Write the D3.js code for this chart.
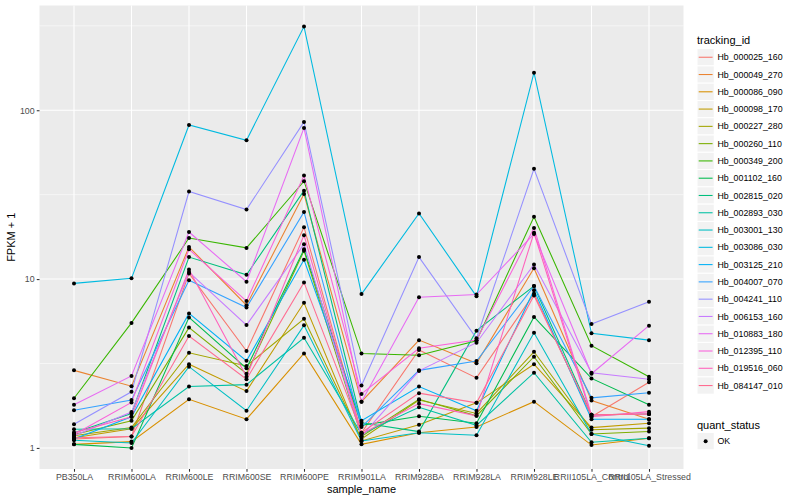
<!DOCTYPE html>
<html>
<head>
<meta charset="utf-8">
<script src="https://cdn.jsdelivr.net/npm/d3@7"></script>
<style>
  html, body { margin: 0; padding: 0; background: #fff; }
  text { font-family: "Liberation Sans", Arial, Helvetica, sans-serif; }
</style>
</head>
<body>
<svg id="chart" width="800" height="500"></svg>
<script>
// ---------- data ----------
const samples = ["PB350LA","RRIM600LA","RRIM600LE","RRIM600SE","RRIM600PE","RRIM901LA",
  "RRIM928BA","RRIM928LA","RRIM928LE","RRII105LA_Control","RRII105LA_Stressed"];

const trackingIds = ["Hb_000025_160","Hb_000049_270","Hb_000086_090","Hb_000098_170",
  "Hb_000227_280","Hb_000260_110","Hb_000349_200","Hb_001102_160","Hb_002815_020",
  "Hb_002893_030","Hb_003001_130","Hb_003086_030","Hb_003125_210","Hb_004007_070",
  "Hb_004241_110","Hb_006153_160","Hb_010883_180","Hb_012395_110","Hb_019516_060",
  "Hb_084147_010"];

// FPKM + 1 per sample, one array per gene
const hb_000025_160 = [1.13, 1.17, 10.8, 3.75, 20.3, 1.23, 3.80, 2.60, 8.2, 1.53, 2.45];
const hb_000049_270 = [2.88, 2.32, 15.5, 7.0, 31.9, 1.88, 4.35, 3.17, 11.6, 1.91, 1.48];
const hb_000086_090 = [1.05, 1.09, 1.94, 1.48, 3.63, 1.05, 1.23, 1.33, 1.88, 1.04, 1.14];
const hb_000098_170 = [1.15, 1.30, 3.13, 2.17, 7.24, 1.10, 1.37, 1.85, 3.13, 1.32, 1.40];
const hb_000227_280 = [1.18, 1.32, 3.66, 3.06, 5.82, 1.13, 1.92, 1.60, 3.71, 1.28, 1.31];
const hb_000260_110 = [1.20, 1.45, 5.16, 2.75, 14.7, 1.17, 1.94, 1.55, 3.47, 1.21, 1.25];
const hb_000349_200 = [1.97, 5.5, 17.5, 15.3, 38.0, 3.62, 3.54, 4.31, 23.4, 4.03, 2.64];
const hb_001102_160 = [1.05, 1.00, 5.93, 2.96, 15.0, 1.36, 1.54, 1.40, 5.97, 2.58, 1.80];
const hb_002815_020 = [1.23, 1.60, 13.5, 10.6, 33.4, 1.41, 1.25, 4.95, 9.1, 1.57, 1.59];
const hb_002893_030 = [1.29, 1.30, 2.31, 2.37, 4.49, 1.21, 1.74, 1.36, 2.79, 1.08, 1.14];
const hb_003001_130 = [1.11, 1.07, 3.03, 1.66, 5.32, 1.10, 1.23, 1.19, 4.81, 1.21, 1.03];
const hb_003086_030 = [9.43, 10.1, 81.8, 66.4, 313, 8.15, 24.5, 7.9, 167, 4.77, 4.35];
const hb_003125_210 = [1.13, 1.53, 6.26, 3.28, 13.0, 1.45, 2.31, 1.66, 8.6, 1.48, 1.48];
const hb_004007_070 = [1.67, 1.92, 9.85, 6.78, 25.0, 1.33, 2.88, 3.27, 9.1, 1.98, 2.12];
const hb_004241_110 = [1.38, 2.15, 33.0, 25.8, 85.3, 2.34, 13.5, 4.46, 45.0, 5.42, 7.34];
const hb_006153_160 = [1.18, 1.63, 11.0, 5.34, 16.1, 1.17, 2.86, 4.20, 12.2, 2.79, 2.55];
const hb_010883_180 = [1.80, 2.67, 19.0, 9.64, 78.6, 1.88, 7.8, 8.1, 18.5, 2.75, 5.3];
const hb_012395_110 = [1.20, 1.86, 15.0, 7.41, 41.0, 2.09, 3.89, 4.35, 20.1, 1.57, 1.59];
const hb_019516_060 = [1.23, 1.53, 11.4, 2.64, 18.2, 1.21, 1.83, 1.55, 18.8, 1.53, 1.64];
const hb_084147_010 = [1.15, 1.17, 4.60, 2.55, 9.56, 1.23, 2.11, 1.85, 8.0, 1.57, 1.59];

const yTicks = [1, 10, 100];
const quantStatus = ["OK"];

const seriesValues = [hb_000025_160, hb_000049_270, hb_000086_090, hb_000098_170,
  hb_000227_280, hb_000260_110, hb_000349_200, hb_001102_160, hb_002815_020,
  hb_002893_030, hb_003001_130, hb_003086_030, hb_003125_210, hb_004007_070,
  hb_004241_110, hb_006153_160, hb_010883_180, hb_012395_110, hb_019516_060,
  hb_084147_010];

// ggplot2 hue palette for 20 levels
const palette = ["#F8766D","#EA8331","#D89000","#C09B00","#A3A500","#7CAE00","#39B600",
  "#00BB4E","#00BF7D","#00C1A3","#00BFC4","#00BAE0","#00B0F6","#35A2FF","#9590FF",
  "#C77CFF","#E76BF3","#FA62DB","#FF62BC","#FF6C91"];

const series = trackingIds.map((id, i) => ({
  id, values: samples.map((s, j) => ({sample: s, value: seriesValues[i][j]}))
}));

// ---------- layout ----------
const svg = d3.select("#chart");
const panel = {left: 39.5, right: 683.5, top: 5.5, bottom: 469};

const x = d3.scalePoint().domain(samples).range([panel.left, panel.right]).padding(0.6);

const allVals = seriesValues.flat();
const lmin = Math.log10(d3.min(allVals)), lmax = Math.log10(d3.max(allVals));
const pad = (lmax - lmin) * 0.05;
const y = d3.scaleLog().domain([Math.pow(10, lmin - pad), Math.pow(10, lmax + pad)])
  .range([panel.bottom, panel.top]);

const color = d3.scaleOrdinal().domain(trackingIds).range(palette);

// panel background
svg.append("rect").attr("x", panel.left).attr("y", panel.top)
  .attr("width", panel.right - panel.left).attr("height", panel.bottom - panel.top)
  .attr("fill", "#EBEBEB");

// minor gridlines (log midpoints)
const minorTicks = [];
for (let i = 0; i < yTicks.length; i++) {
  const m = yTicks[i] * Math.sqrt(10);
  if (m > y.domain()[0] && m < y.domain()[1]) minorTicks.push(m);
}
const gGrid = svg.append("g");
gGrid.selectAll("line.minor").data(minorTicks).join("line")
  .attr("x1", panel.left).attr("x2", panel.right)
  .attr("y1", d => y(d)).attr("y2", d => y(d))
  .attr("stroke", "#fff").attr("stroke-width", 0.55);
gGrid.selectAll("line.majorY").data(yTicks).join("line")
  .attr("x1", panel.left).attr("x2", panel.right)
  .attr("y1", d => y(d)).attr("y2", d => y(d))
  .attr("stroke", "#fff").attr("stroke-width", 1.07);
gGrid.selectAll("line.majorX").data(samples).join("line")
  .attr("y1", panel.top).attr("y2", panel.bottom)
  .attr("x1", d => x(d)).attr("x2", d => x(d))
  .attr("stroke", "#fff").attr("stroke-width", 1.07);

// lines
const line = d3.line().x(d => x(d.sample)).y(d => y(d.value));
svg.append("g").selectAll("path").data(series).join("path")
  .attr("d", d => line(d.values))
  .attr("fill", "none")
  .attr("stroke", d => color(d.id))
  .attr("stroke-width", 1.07);

// points
svg.append("g").selectAll("g").data(series).join("g")
  .selectAll("circle").data(d => d.values).join("circle")
  .attr("cx", d => x(d.sample)).attr("cy", d => y(d.value))
  .attr("r", 2).attr("fill", "#000");

// axes
const yAxis = d3.axisLeft(y).tickValues(yTicks).tickFormat(d3.format("d")).tickSize(2.75).tickPadding(2.2);
const gy = svg.append("g").attr("transform", `translate(${panel.left},0)`).call(yAxis);
gy.select(".domain").remove();
gy.selectAll(".tick line").attr("stroke", "#333333").attr("stroke-width", 1.07);
gy.selectAll(".tick text").attr("fill", "#4D4D4D").attr("font-size", "8.8px")
  .style("font-family", '"Liberation Sans", Arial, sans-serif');

const xAxis = d3.axisBottom(x).tickSize(2.75).tickPadding(2.2);
const gx = svg.append("g").attr("transform", `translate(0,${panel.bottom})`).call(xAxis);
gx.select(".domain").remove();
gx.selectAll(".tick line").attr("stroke", "#333333").attr("stroke-width", 1.07);
gx.selectAll(".tick text").attr("fill", "#4D4D4D").attr("font-size", "8.8px")
  .style("font-family", '"Liberation Sans", Arial, sans-serif');

// axis titles
svg.append("text").attr("x", (panel.left + panel.right) / 2).attr("y", 493)
  .attr("text-anchor", "middle").attr("font-size", "11px").attr("fill", "#000")
  .text("sample_name");
svg.append("text")
  .attr("transform", `translate(15,${(panel.top + panel.bottom) / 2}) rotate(-90)`)
  .attr("text-anchor", "middle").attr("font-size", "11px").attr("fill", "#000")
  .text("FPKM + 1");

// legend: tracking_id
const lg = svg.append("g");
const keyX = 697, keyY0 = 48.6, keyS = 17.28;
lg.append("text").attr("x", keyX).attr("y", 44).attr("font-size", "11px").attr("fill", "#000")
  .text("tracking_id");
const keys = lg.selectAll("g.key").data(trackingIds).join("g")
  .attr("transform", (d, i) => `translate(${keyX},${keyY0 + i * keyS})`);
keys.append("rect").attr("width", keyS).attr("height", keyS)
  .attr("fill", "#F2F2F2").attr("stroke", "#fff").attr("stroke-width", 1);
keys.append("line").attr("x1", 1.7).attr("x2", keyS - 1.7)
  .attr("y1", keyS / 2).attr("y2", keyS / 2)
  .attr("stroke", d => color(d)).attr("stroke-width", 1.07);
keys.append("text").attr("x", keyS + 3.2).attr("y", keyS / 2).attr("dy", "0.35em")
  .attr("font-size", "8.8px").attr("fill", "#000").text(d => d);

// legend: quant_status
const qY0 = 432.5;
lg.append("text").attr("x", keyX).attr("y", 428.5).attr("font-size", "11px").attr("fill", "#000")
  .text("quant_status");
const qk = lg.selectAll("g.qkey").data(quantStatus).join("g")
  .attr("transform", (d, i) => `translate(${keyX},${qY0 + i * keyS})`);
qk.append("rect").attr("width", keyS).attr("height", keyS)
  .attr("fill", "#F2F2F2").attr("stroke", "#fff").attr("stroke-width", 1);
qk.append("circle").attr("cx", keyS / 2).attr("cy", keyS / 2).attr("r", 2).attr("fill", "#000");
qk.append("text").attr("x", keyS + 3.2).attr("y", keyS / 2).attr("dy", "0.35em")
  .attr("font-size", "8.8px").attr("fill", "#000").text(d => d);
</script>
</body>
</html>
